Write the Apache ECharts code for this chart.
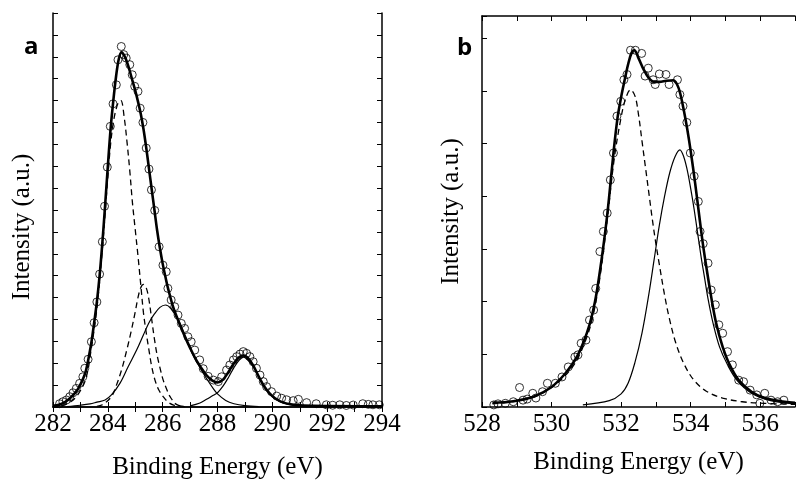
<!DOCTYPE html>
<html>
<head>
<meta charset="utf-8">
<title>XPS C1s / O1s</title>
<script src="https://cdn.jsdelivr.net/npm/echarts/dist/echarts.min.js"></script>
<style>
  html, body { margin: 0; padding: 0; background: #fff; }
  #chart { width: 798px; height: 485px; }
</style>
</head>
<body>
<div id="chart"></div>
<script>
// panel a : C 1s  (binding energy eV, intensity a.u.)
var aPoints = [[282.24,0.15],[282.36,0.24],[282.49,0.32],[282.61,0.47],[282.73,0.65],[282.85,0.85],[282.97,1.08],[283.09,1.38],[283.16,1.77],[283.28,2.18],[283.4,2.98],[283.5,3.85],[283.6,4.8],[283.7,6.07],[283.8,7.55],[283.88,9.17],[283.98,10.96],[284.09,12.82],[284.19,13.85],[284.31,14.72],[284.37,15.86],[284.49,16.47],[284.58,16.1],[284.67,15.94],[284.8,15.64],[284.89,15.18],[284.98,14.65],[285.1,14.42],[285.18,13.65],[285.28,13.0],[285.4,11.83],[285.5,10.87],[285.59,9.92],[285.71,8.98],[285.87,7.32],[286.01,6.48],[286.13,6.18],[286.19,5.42],[286.31,4.89],[286.44,4.58],[286.56,4.2],[286.68,3.82],[286.8,3.59],[286.92,3.21],[287.04,2.98],[287.17,2.6],[287.35,2.15],[287.48,1.75],[287.66,1.4],[287.85,1.23],[288.03,1.16],[288.15,1.38],[288.33,1.69],[288.45,1.92],[288.58,2.15],[288.7,2.3],[288.82,2.42],[288.94,2.53],[289.06,2.45],[289.18,2.3],[289.3,2.07],[289.42,1.77],[289.55,1.46],[289.67,1.16],[289.79,0.93],[289.97,0.7],[290.16,0.5],[290.34,0.4],[290.52,0.33],[290.76,0.29],[290.95,0.35],[291.25,0.2],[291.6,0.15],[291.97,0.1],[292.2,0.08],[292.46,0.1],[292.7,0.07],[292.95,0.09],[293.3,0.15],[293.5,0.12],[293.67,0.1],[293.9,0.1]];
var aFit = [[282.0,0.05],[282.3,0.14],[282.6,0.38],[282.9,0.8],[283.1,1.3],[283.2,1.65],[283.3,2.25],[283.4,2.95],[283.5,3.84],[283.6,4.8],[283.7,6.0],[283.8,7.5],[283.9,9.2],[284.0,11.0],[284.1,12.7],[284.2,14.0],[284.3,15.1],[284.4,15.9],[284.5,16.2],[284.6,16.05],[284.7,15.75],[284.8,15.35],[284.9,14.9],[285.0,14.45],[285.1,13.95],[285.2,13.4],[285.3,12.7],[285.4,11.85],[285.5,10.9],[285.6,9.95],[285.7,9.0],[285.8,8.05],[285.9,7.25],[286.0,6.55],[286.1,5.95],[286.2,5.4],[286.4,4.5],[286.6,3.85],[286.8,3.25],[287.0,2.7],[287.2,2.2],[287.4,1.8],[287.6,1.45],[287.8,1.22],[288.0,1.12],[288.2,1.25],[288.4,1.6],[288.6,2.0],[288.8,2.28],[288.95,2.35],[289.1,2.25],[289.3,1.9],[289.5,1.4],[289.7,0.95],[289.9,0.62],[290.1,0.4],[290.4,0.2],[290.8,0.1],[291.5,0.05],[294.0,0.03]];
var aPeak1 = [[282.3,0.05],[282.6,0.2],[282.9,0.55],[283.2,1.3],[283.4,2.7],[283.6,4.5],[283.8,7.2],[284.0,10.5],[284.1,12.0],[284.2,13.0],[284.3,13.6],[284.4,13.95],[284.48,14.0],[284.6,13.2],[284.7,12.1],[284.8,10.8],[284.9,9.3],[285.0,8.1],[285.1,6.9],[285.2,5.6],[285.3,4.3],[285.4,3.4],[285.5,2.6],[285.6,1.85],[285.72,1.23],[285.85,0.8],[286.02,0.47],[286.2,0.22],[286.4,0.09],[286.8,0.02]];
var aPeak2 = [[283.6,0.03],[283.8,0.1],[284.13,0.47],[284.3,0.95],[284.5,1.69],[284.7,2.65],[284.85,3.45],[285.0,4.35],[285.1,5.0],[285.2,5.45],[285.3,5.6],[285.4,5.45],[285.5,4.9],[285.6,4.0],[285.7,3.1],[285.8,2.35],[285.9,1.8],[286.02,1.23],[286.15,0.8],[286.27,0.47],[286.5,0.12],[286.8,0.02]];
var aPeak3 = [[282.5,0.02],[283.0,0.08],[283.35,0.14],[283.6,0.22],[283.9,0.32],[284.13,0.55],[284.44,1.08],[284.74,1.84],[285.05,2.6],[285.3,3.3],[285.5,3.85],[285.7,4.25],[285.9,4.55],[286.1,4.66],[286.3,4.5],[286.6,3.9],[286.89,3.0],[287.1,2.4],[287.36,1.8],[287.6,1.3],[287.84,0.85],[288.0,0.6],[288.3,0.3],[288.6,0.15],[289.0,0.06],[289.5,0.02]];
var aPeak4 = [[287.0,0.05],[287.36,0.18],[287.6,0.35],[287.8,0.5],[288.0,0.65],[288.2,0.95],[288.4,1.35],[288.6,1.8],[288.8,2.15],[288.95,2.28],[289.1,2.15],[289.3,1.85],[289.5,1.4],[289.7,0.95],[289.9,0.6],[290.1,0.38],[290.4,0.18],[290.8,0.06],[291.3,0.02]];

// panel b : O 1s
var bPoints = [[528.34,0.04],[528.46,0.06],[528.67,0.07],[528.9,0.1],[529.08,0.37],[529.18,0.13],[529.3,0.15],[529.46,0.26],[529.55,0.17],[529.74,0.29],[529.88,0.45],[530.11,0.45],[530.3,0.57],[530.48,0.76],[530.67,0.95],[530.76,0.99],[530.85,1.21],[530.99,1.27],[531.09,1.65],[531.21,1.84],[531.27,2.25],[531.39,2.95],[531.49,3.33],[531.6,3.68],[531.69,4.31],[531.78,4.82],[531.88,5.52],[531.99,5.8],[532.08,6.21],[532.17,6.31],[532.27,6.77],[532.41,6.77],[532.59,6.71],[532.69,6.28],[532.78,6.43],[532.92,6.21],[532.98,6.12],[533.1,6.32],[533.29,6.31],[533.38,6.12],[533.62,6.21],[533.69,5.93],[533.78,5.71],[533.89,5.4],[533.99,4.82],[534.1,4.38],[534.22,3.9],[534.27,3.33],[534.36,3.1],[534.5,2.73],[534.59,2.22],[534.71,1.94],[534.81,1.56],[534.92,1.4],[535.06,1.05],[535.2,0.8],[535.38,0.51],[535.52,0.48],[535.71,0.32],[535.9,0.23],[535.99,0.07],[536.13,0.26],[536.31,0.13],[536.5,0.1],[536.68,0.13]];
var bFit = [[528.3,0.08],[528.9,0.11],[529.5,0.2],[530.0,0.38],[530.4,0.64],[530.7,0.92],[530.9,1.2],[531.1,1.58],[531.25,2.0],[531.4,2.62],[531.55,3.36],[531.65,3.95],[531.78,4.82],[531.9,5.5],[532.0,5.88],[532.1,6.2],[532.2,6.5],[532.3,6.72],[532.38,6.77],[532.5,6.62],[532.65,6.4],[532.8,6.24],[532.95,6.17],[533.1,6.17],[533.3,6.19],[533.5,6.2],[533.61,6.12],[533.7,5.95],[533.8,5.64],[533.9,5.28],[534.0,4.86],[534.13,4.24],[534.25,3.61],[534.35,3.1],[534.45,2.66],[534.59,2.09],[534.73,1.6],[534.92,1.14],[535.1,0.83],[535.38,0.51],[535.75,0.29],[536.13,0.17],[536.7,0.1],[537.0,0.08]];
var bPeak1 = [[528.3,0.06],[528.9,0.1],[529.5,0.19],[530.0,0.37],[530.4,0.6],[530.7,0.86],[531.0,1.3],[531.2,1.75],[531.4,2.5],[531.6,3.55],[531.8,4.7],[532.0,5.5],[532.13,5.85],[532.27,6.02],[532.4,5.9],[532.5,5.55],[532.6,5.05],[532.7,4.55],[532.8,4.05],[532.9,3.55],[533.0,3.1],[533.1,2.7],[533.24,2.16],[533.38,1.7],[533.57,1.22],[533.8,0.83],[534.08,0.52],[534.45,0.3],[534.92,0.17],[535.48,0.1],[536.1,0.07],[537.0,0.05]];
var bPeak2 = [[530.9,0.04],[531.66,0.12],[532.0,0.25],[532.2,0.45],[532.4,0.85],[532.6,1.4],[532.8,2.15],[532.95,2.8],[533.1,3.45],[533.25,4.0],[533.4,4.45],[533.55,4.75],[533.69,4.88],[533.8,4.75],[533.9,4.5],[534.0,4.15],[534.1,3.75],[534.2,3.3],[534.3,2.85],[534.4,2.45],[534.5,2.05],[534.64,1.6],[534.83,1.14],[535.06,0.8],[535.34,0.5],[535.75,0.26],[536.3,0.12],[537.0,0.06]];

var serif = 'Liberation Serif';

function evenLabel(v) {
  return Math.round(v) % 2 === 0 ? String(Math.round(v)) : '';
}

function xAx(grid, min, max, pos, name, gap) {
  return {
    type: 'value', gridIndex: grid, min: min, max: max, interval: 1, position: pos,
    name: name, nameLocation: 'middle', nameGap: gap,
    nameTextStyle: { fontFamily: serif, fontSize: 25, color: '#000' },
    axisLine: { show: true, lineStyle: { color: '#000', width: 1.5 } },
    axisTick: { show: true, inside: true, length: 5, lineStyle: { color: '#000', width: 1 } },
    axisLabel: { show: pos === 'bottom', formatter: evenLabel, margin: 5, fontFamily: serif, fontSize: 25, color: '#000' },
    splitLine: { show: false }
  };
}

function yAx(grid, max, pos, name) {
  return {
    type: 'value', gridIndex: grid, min: 0, max: max, interval: 1, position: pos,
    name: name, nameLocation: 'middle', nameGap: 18,
    nameTextStyle: { fontFamily: serif, fontSize: 25, color: '#000', padding: grid === 0 ? [0, 34, 0, 0] : 0 },
    axisLine: { show: true, lineStyle: { color: '#000', width: 1.5 } },
    axisTick: { show: true, inside: true, length: 5, lineStyle: { color: '#000', width: 1 } },
    axisLabel: { show: false },
    splitLine: { show: false }
  };
}

function line(data, xi, yi, dashed, width) {
  return {
    type: 'line', data: data, xAxisIndex: xi, yAxisIndex: yi,
    showSymbol: false, smooth: 0.35, silent: true,
    lineStyle: { color: '#000', width: width, type: dashed ? [6, 4] : 'solid' },
    z: 3
  };
}

function dots(data, xi, yi) {
  return {
    type: 'scatter', data: data, xAxisIndex: xi, yAxisIndex: yi,
    symbol: 'circle', symbolSize: 8, silent: true,
    itemStyle: { color: 'rgba(0,0,0,0)', borderColor: '#000', borderWidth: 1 },
    z: 2
  };
}

var chart = echarts.init(document.getElementById('chart'), null, { renderer: 'canvas' });

chart.setOption({
  backgroundColor: '#fff',
  animation: false,
  title: [
    { text: 'a', left: 19, top: 30, textStyle: { fontFamily: 'Open Sans', fontWeight: 'bold', fontSize: 24, color: '#000' } },
    { text: 'b', left: 452, top: 31, textStyle: { fontFamily: 'Open Sans', fontWeight: 'bold', fontSize: 24, color: '#000' } }
  ],
  grid: [
    { left: 53, top: 13, width: 329, height: 394 },
    { left: 482, top: 16, right: -7, height: 391 }
  ],
  xAxis: [
    xAx(0, 282, 294, 'bottom', 'Binding Energy (eV)', 48),
    xAx(0, 282, 294, 'top', '', 0),
    xAx(1, 528, 537, 'bottom', 'Binding Energy (eV)', 43),
    xAx(1, 528, 537, 'top', '', 0)
  ],
  yAxis: [
    yAx(0, 18, 'left', 'Intensity (a.u.)'),
    yAx(0, 18, 'right', ''),
    yAx(1, 7.42, 'left', 'Intensity (a.u.)')
  ],
  series: [
    dots(aPoints, 0, 0),
    line(aPeak1, 0, 0, true, 1.3),
    line(aPeak2, 0, 0, true, 1.3),
    line(aPeak3, 0, 0, false, 1.2),
    line(aPeak4, 0, 0, false, 1.2),
    line(aFit, 0, 0, false, 2.6),
    dots(bPoints, 2, 2),
    line(bPeak1, 2, 2, true, 1.3),
    line(bPeak2, 2, 2, false, 1.2),
    line(bFit, 2, 2, false, 2.6)
  ]
});
</script>
</body>
</html>
